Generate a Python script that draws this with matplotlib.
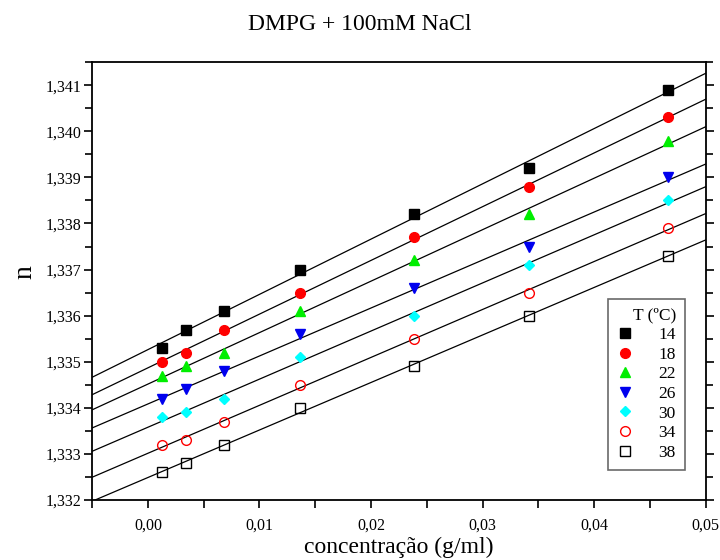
import matplotlib
matplotlib.use("Agg")
import matplotlib.pyplot as plt
import numpy as np
from matplotlib.ticker import MultipleLocator, FuncFormatter

plt.rcParams['font.family'] = ['Liberation Serif', 'DejaVu Serif']

conc = [0.00125, 0.0034, 0.0068, 0.0136, 0.0239, 0.0342, 0.0466]

temps = ['14', '18', '22', '26', '30', '34', '38']
n_14 = [1.3353, 1.3357, 1.3361, 1.3370, 1.3382, 1.3392, 1.3409]
n_18 = [1.3350, 1.3352, 1.3357, 1.3365, 1.3377, 1.3388, 1.3403]
n_22 = [1.3347, 1.3349, 1.3352, 1.3361, 1.3372, 1.3382, 1.3398]
n_26 = [1.3342, 1.3344, 1.3348, 1.3356, 1.3366, 1.3375, 1.3390]
n_30 = [1.3338, 1.3339, 1.3342, 1.3351, 1.3360, 1.3371, 1.3385]
n_34 = [1.3332, 1.3333, 1.3337, 1.3345, 1.3355, 1.3365, 1.3379]
n_38 = [1.3326, 1.3328, 1.3332, 1.3340, 1.3349, 1.3360, 1.3373]

series = [n_14, n_18, n_22, n_26, n_30, n_34, n_38]
markers = ['s', 'o', '^', 'v', 'D', 'o', 's']
faces = ['black', 'red', '#00ee00', '#0000ee', 'cyan', 'none', 'none']
edges = ['black', 'red', '#00ee00', '#0000ee', 'cyan', 'red', 'black']
sizes = [6.5, 7, 7, 7, 5.5, 7, 6.5]

fig = plt.figure(figsize=(7.2, 5.6), dpi=100)
ax = fig.add_axes([0.128, 0.107, 0.852, 0.782])

xmin, xmax = -0.005, 0.05
xfit = np.array([xmin, xmax])
for i in range(len(series)):
    y = np.array(series[i])
    p = np.polyfit(conc, y, 1)
    ax.plot(xfit, np.polyval(p, xfit), color='black', lw=0.9, zorder=1)
    ax.plot(conc, y, linestyle='none', marker=markers[i], markersize=sizes[i],
            markerfacecolor=faces[i], markeredgecolor=edges[i],
            markeredgewidth=1.0, label=temps[i], zorder=3)

ax.set_xlim(xmin, xmax)
ax.set_ylim(1.332, 1.3415)

ax.xaxis.set_major_locator(MultipleLocator(0.01))
ax.xaxis.set_minor_locator(MultipleLocator(0.005))
ax.yaxis.set_major_locator(MultipleLocator(0.001))
ax.yaxis.set_minor_locator(MultipleLocator(0.0005))

ax.xaxis.set_major_formatter(FuncFormatter(lambda v, pos: ('%.2f' % v).replace('.', ',')))
ax.yaxis.set_major_formatter(FuncFormatter(lambda v, pos: ('%.3f' % v).replace('.', ',')))

ax.tick_params(which='both', direction='out', width=1.2, labelsize=11.5,
               top=False, right=True, length=5)
ax.tick_params(axis='y', which='major', length=6, pad=2)
ax.tick_params(axis='y', which='minor', length=5)
ax.tick_params(axis='x', which='both', length=6, pad=7)
for sp in ax.spines.values():
    sp.set_linewidth(1.3)

ax.set_xlabel('concentração (g/ml)', fontsize=17, labelpad=2)
ax.set_ylabel('n', fontsize=20)
ax.yaxis.set_label_coords(-0.09, 0.52)
fig.suptitle('DMPG + 100mM NaCl', fontsize=17, y=0.975)

leg = ax.legend(title='T (ºC)', loc='lower right', bbox_to_anchor=(0.98, 0.05),
                frameon=True, fancybox=False, edgecolor='#444444', fontsize=12.5,
                title_fontsize=12.5, markerfirst=True, handletextpad=1.4,
                labelspacing=0.2, borderpad=0.5, handlelength=1.0)
leg._legend_box.align = 'right'
leg.get_frame().set_linewidth(1.2)

fig.savefig('out.png', dpi=100)
